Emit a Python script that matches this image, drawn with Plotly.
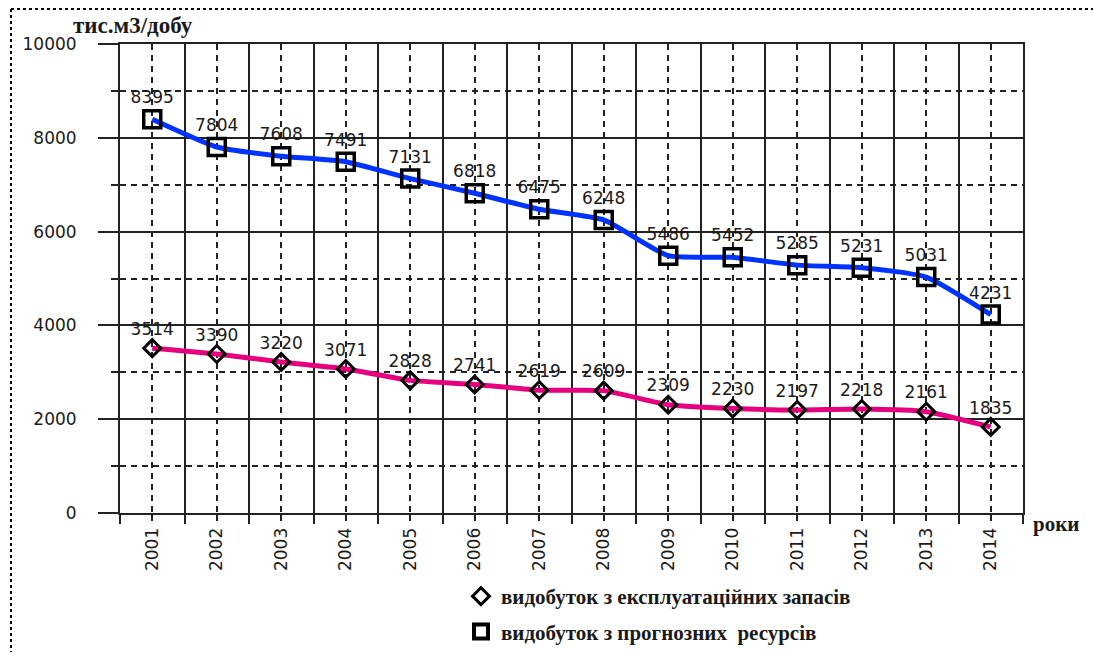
import plotly.graph_objects as go

years = ["2001", "2002", "2003", "2004", "2005", "2006", "2007",
         "2008", "2009", "2010", "2011", "2012", "2013", "2014"]
prognoz = [8395, 7804, 7608, 7491, 7131, 6818, 6475, 6248, 5486, 5452, 5285, 5231, 5031, 4231]
ekspl = [3514, 3390, 3220, 3071, 2828, 2741, 2619, 2609, 2309, 2230, 2197, 2218, 2161, 1835]
name_ekspl = "видобуток з експлуатаційних запасів"
name_prog = "видобуток з прогнозних\u00a0 ресурсів"
y_title = "тис.м3/добу"
x_title = "роки"

W, H = 1093, 652
L, R, T, B = 120, 1023, 44, 513
pw, ph = R - L, B - T


def px(x):
    return (x - L) / pw


def py(y):
    return (B - y) / ph


xs = list(range(len(years)))
bounds = [i - 0.5 for i in range(len(years) + 1)]
ymin, ymax, ystep = 0, 10000, 2000
yminor = list(range(ymin + ystep // 2, ymax, ystep))

ink = "#1a1a1a"
grid = "#222222"
lab_font = dict(family="DejaVu Sans", size=17, color=ink)
serif = dict(family="Liberation Serif", size=21, color=ink, weight="bold")
serif_title = dict(family="Liberation Serif", size=23, color=ink, weight="bold")

fig = go.Figure()
fig.add_trace(go.Scatter(
    x=xs, y=prognoz, mode="lines+markers+text", text=[str(v) for v in prognoz],
    textposition="top center", textfont=lab_font,
    line=dict(color="#0033ff", width=5, shape="spline", smoothing=0.5),
    marker=dict(symbol="square-open", size=17, color="black", line=dict(width=3.5, color="black")),
    showlegend=False, cliponaxis=False, hoverinfo="x+y"))
fig.add_trace(go.Scatter(
    x=xs, y=ekspl, mode="lines+markers+text", text=[str(v) for v in ekspl],
    textposition="top center", textfont=lab_font,
    line=dict(color="#e6007e", width=5, shape="spline", smoothing=0.5),
    marker=dict(symbol="diamond-open", size=13, color="black", line=dict(width=3, color="black")),
    showlegend=False, cliponaxis=False, hoverinfo="x+y"))
# helper trace that activates the overlay grid axes
fig.add_trace(go.Scatter(x=[None], y=[None], xaxis="x2", yaxis="y2", mode="markers",
                         showlegend=False, hoverinfo="skip"))
# legend entries (markers only, as in the reference)
fig.add_trace(go.Scatter(x=[None], y=[None], mode="markers", name=name_ekspl, legendgroup="a",
                         marker=dict(symbol="diamond-open", size=13, color="black", line=dict(width=3, color="black"))))
fig.add_trace(go.Scatter(x=[None], y=[None], mode="markers", name=name_prog, legendgroup="b",
                         marker=dict(symbol="square-open", size=14, color="black", line=dict(width=4, color="black"))))

fig.update_layout(
    width=W, height=H,
    margin=dict(l=L, r=W - R, t=T, b=H - B, autoexpand=False),
    paper_bgcolor="white", plot_bgcolor="white",
    font=dict(family="DejaVu Sans", size=17, color=ink),
    showlegend=True,
    legend=dict(x=px(461), y=py(576), xanchor="left", yanchor="top",
                font=serif, tracegroupgap=5, bgcolor="rgba(0,0,0,0)"),
    xaxis=dict(
        range=[bounds[0], bounds[-1]], tickmode="array", tickvals=xs, ticktext=years,
        tickangle=-90, ticks="outside", ticklen=6, tickwidth=1.5, tickcolor=grid,
        showgrid=True, gridcolor=grid, gridwidth=1.5, griddash="6px,5px",
        showline=True, linecolor=grid, linewidth=2, mirror=True, automargin=False,
        zeroline=False, tickfont=dict(family="DejaVu Sans", size=17, color=ink),
    ),
    xaxis2=dict(
        overlaying="x", anchor="y", side="bottom", matches="x",
        tickmode="array", tickvals=bounds, showticklabels=False,
        ticks="outside", ticklen=10, tickwidth=2, tickcolor=grid,
        showgrid=True, gridcolor=grid, gridwidth=2, zeroline=False, showline=False,
        automargin=False,
    ),
    yaxis=dict(
        range=[ymin, ymax], tickmode="linear", tick0=ymin, dtick=ystep, tickformat="d",
        ticks="outside", ticklen=20, tickwidth=2, tickcolor=grid,
        showgrid=True, gridcolor=grid, gridwidth=2,
        showline=True, linecolor=grid, linewidth=2, mirror=True,
        zeroline=False, ticklabelstandoff=18, automargin=False,
        tickfont=dict(family="DejaVu Sans", size=17, color=ink),
    ),
    yaxis2=dict(
        overlaying="y", anchor="x", side="left", matches="y",
        tickmode="array", tickvals=yminor, showticklabels=False,
        ticks="outside", ticklen=8, tickwidth=1.5, tickcolor=grid,
        showgrid=True, gridcolor=grid, gridwidth=1.5, griddash="6px,5px",
        zeroline=False, showline=False, automargin=False,
    ),
    annotations=[
        dict(text=y_title, xref="paper", yref="paper", x=px(71), y=py(26), xanchor="left",
             yanchor="middle", showarrow=False, font=serif_title),
        dict(text=x_title, xref="paper", yref="paper", x=px(1031), y=py(524), xanchor="left",
             yanchor="middle", showarrow=False, font=serif),
    ],
    shapes=[
        dict(type="line", xref="paper", yref="paper", x0=px(11), x1=px(W + 5), y0=py(9), y1=py(9),
             line=dict(color="black", width=2, dash="dot")),
        dict(type="line", xref="paper", yref="paper", x0=px(11), x1=px(11), y0=py(9), y1=py(H + 5),
             line=dict(color="black", width=2, dash="dot")),
    ],
)

fig.write_html("out.html", config={"displayModeBar": False},
               post_script="document.body.style.margin='0';document.body.style.overflow='hidden';")
